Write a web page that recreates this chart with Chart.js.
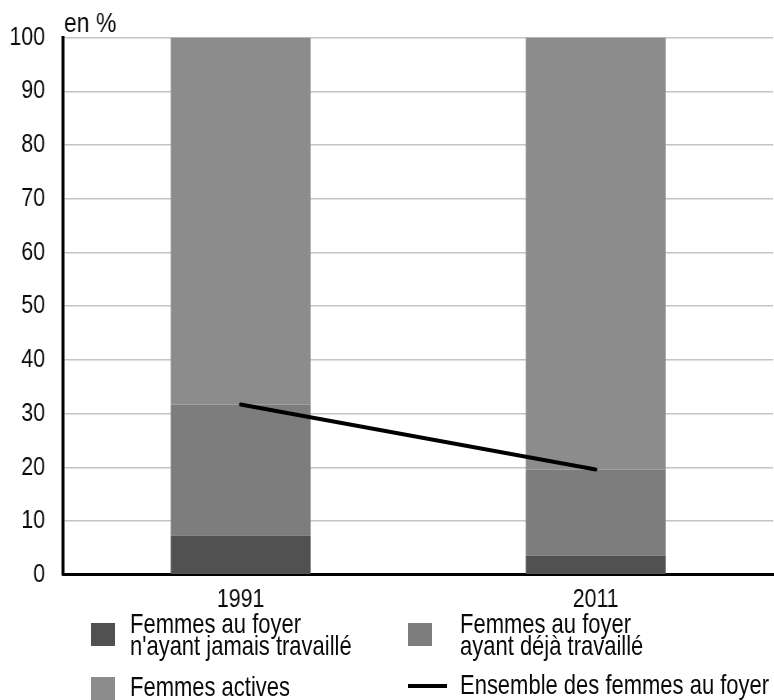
<!DOCTYPE html>
<html lang="fr">
<head>
<meta charset="utf-8">
<title>Femmes au foyer et femmes actives, 1991 et 2011</title>
<script src="https://cdn.jsdelivr.net/npm/chart.js@4.4.1/dist/chart.umd.min.js"></script>
<style>
  html, body { margin: 0; padding: 0; background: #fff; overflow: hidden; }
  #wrap { position: relative; width: 774px; height: 700px; }
  #chart { position: absolute; left: 0; top: 0; }
  .leg-item { position: absolute; font-family: 'Liberation Sans', Arial, sans-serif;
              font-size: 28px; line-height: 22px; color: #0a0a0a; white-space: nowrap;
              transform: scaleX(0.785); transform-origin: 0 0; }
  .leg-swatch { position: absolute; }
</style>
</head>
<body>
<div id="wrap">
  <!-- Le canevas est dessiné plus large puis ramené à 774 px : le texte prend ainsi une chasse étroite -->
  <canvas id="chart" width="944" height="700" style="width:774px;height:700px"></canvas>
  <div id="legend"></div>
</div>
<script>
// Années
const categories = ['1991', '2011'];
// Part des femmes (en %)
const jamaisTravaille = [7.3, 3.6];
const dejaTravaille = [24.4, 16.0];
const actives = [68.3, 80.4];
const ensembleFoyer = [31.7, 19.6];
// Axe vertical
const yMin = 0;
const yMax = 100;
const yStep = 10;

const FONT = "'Liberation Sans', Arial, sans-serif";
const Y_AXIS_WIDTH = 77; // largeur réservée aux graduations verticales (unités du canevas)

// Petit libellé d'unité au-dessus de l'axe vertical
const unitLabel = {
  id: 'unitLabel',
  afterDraw(chart) {
    const { ctx, chartArea } = chart;
    ctx.save();
    ctx.font = '28px ' + FONT;
    ctx.fillStyle = '#0a0a0a';
    ctx.textAlign = 'left';
    ctx.textBaseline = 'alphabetic';
    ctx.fillText('en %', chartArea.left + 1, chartArea.top - 6);
    ctx.restore();
  }
};

const chart = new Chart(document.getElementById('chart'), {
  type: 'bar',
  data: {
    labels: categories,
    datasets: [
      {
        type: 'line',
        label: 'Ensemble des femmes au foyer',
        data: ensembleFoyer,
        borderColor: '#000',
        backgroundColor: '#000',
        borderWidth: 4,
        borderCapStyle: 'round',
        pointRadius: 0,
        fill: false,
        tension: 0,
        stack: 'ensemble',
        order: 0
      },
      {
        label: "Femmes au foyer\nn'ayant jamais travaillé",
        data: jamaisTravaille,
        backgroundColor: '#515151',
        stack: 'femmes',
        order: 1
      },
      {
        label: 'Femmes au foyer\nayant déjà travaillé',
        data: dejaTravaille,
        backgroundColor: '#7d7d7d',
        stack: 'femmes',
        order: 1
      },
      {
        label: 'Femmes actives',
        data: actives,
        backgroundColor: '#8c8c8c',
        stack: 'femmes',
        order: 1
      }
    ]
  },
  options: {
    responsive: false,
    animation: false,
    devicePixelRatio: 1,
    events: [],
    datasets: {
      bar: { barPercentage: 0.394, categoryPercentage: 1, borderWidth: 0 }
    },
    layout: { padding: { top: 37, left: 0, right: 1, bottom: 76 } },
    plugins: {
      legend: { display: false },
      tooltip: { enabled: false },
      title: { display: false }
    },
    scales: {
      x: {
        stacked: true,
        grid: { display: false, drawTicks: false },
        border: { display: true, color: '#000', width: 3 },
        ticks: { color: '#0a0a0a', font: { family: FONT, size: 26 }, padding: 9 }
      },
      y: {
        stacked: true,
        min: yMin,
        max: yMax,
        afterFit(scale) { scale.width = Y_AXIS_WIDTH; },
        grid: { color: '#c4c4c4', lineWidth: 1.5, drawTicks: false },
        border: { display: true, color: '#000', width: 3.6 },
        ticks: { stepSize: yStep, color: '#0a0a0a', font: { family: FONT, size: 26 }, padding: 22 }
      }
    }
  },
  plugins: [unitLabel]
});

// Légende sur deux colonnes, construite à partir des séries du graphique
const legendSlots = {
  "Femmes au foyer\nn'ayant jamais travaillé": { sx: 91, sy: 623, tx: 130, ty: 613 },
  'Femmes au foyer\nayant déjà travaillé': { sx: 408, sy: 623, tx: 460, ty: 613 },
  'Femmes actives': { sx: 91, sy: 677, tx: 130, ty: 676 },
  'Ensemble des femmes au foyer': { sx: 408, sy: 684, tx: 460, ty: 674 }
};
const legendEl = document.getElementById('legend');
chart.data.datasets.forEach(ds => {
  const slot = legendSlots[ds.label];
  const sw = document.createElement('div');
  sw.className = 'leg-swatch';
  sw.style.left = slot.sx + 'px';
  sw.style.top = slot.sy + 'px';
  if (ds.type === 'line') {
    sw.style.width = '39px';
    sw.style.height = ds.borderWidth + 'px';
    sw.style.background = ds.borderColor;
  } else {
    sw.style.width = '24px';
    sw.style.height = '23px';
    sw.style.background = ds.backgroundColor;
  }
  legendEl.appendChild(sw);
  const tx = document.createElement('div');
  tx.className = 'leg-item';
  tx.style.left = slot.tx + 'px';
  tx.style.top = slot.ty + 'px';
  ds.label.split('\n').forEach((line, i) => {
    if (i) tx.appendChild(document.createElement('br'));
    tx.appendChild(document.createTextNode(line));
  });
  legendEl.appendChild(tx);
});
</script>
</body>
</html>
